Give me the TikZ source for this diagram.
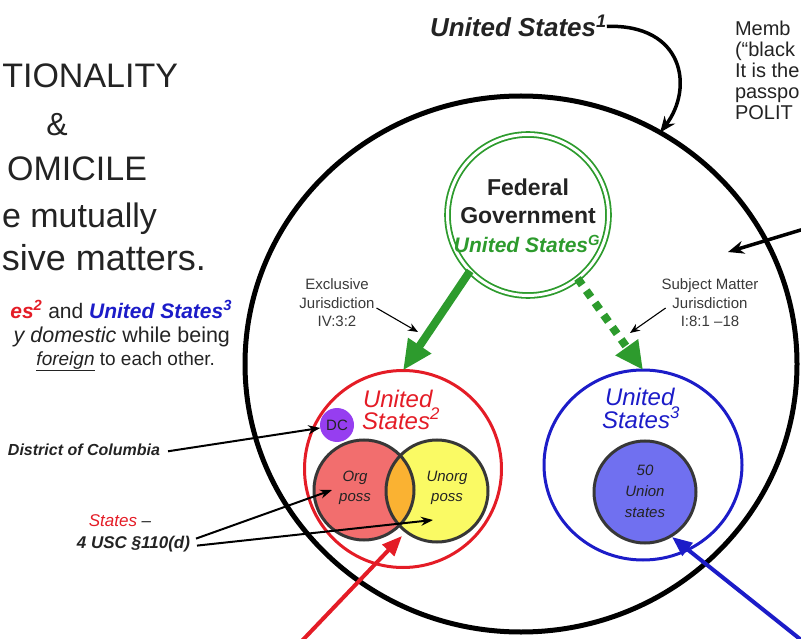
\documentclass[tikz,border=0pt]{standalone}
\usepackage{fontspec}
\setmainfont{Liberation Sans}
\usepackage{xcolor}
\usetikzlibrary{arrows.meta,shapes.geometric,positioning}

\definecolor{ink}{RGB}{35,35,35}
\definecolor{usred}{RGB}{228,28,38}
\definecolor{usblue}{RGB}{28,28,200}
\definecolor{fedgreen}{RGB}{45,155,45}
\definecolor{orgpink}{RGB}{242,110,110}
\definecolor{unorgyellow}{RGB}{250,250,100}
\definecolor{overlap}{RGB}{250,178,50}
\definecolor{dcpurple}{RGB}{150,62,240}
\definecolor{unionblue}{RGB}{112,112,240}
\definecolor{rimgray}{RGB}{55,55,55}

\newcommand{\setfs}[2]{\fontsize{#1}{#2}\selectfont}

\begin{document}
\begin{tikzpicture}[x=1pt,y=-1pt,>=Stealth,
    every node/.style={inner sep=0pt,outer sep=0pt,text=ink},
    ring/.style={draw,line width=3pt},
    rim/.style={draw=rimgray,line width=3pt},
    disc/.style={circle,inner sep=0pt},
    lbl/.style={align=center,font=\itshape\setfs{15}{20}},
    jur/.style={align=center,font=\setfs{15}{18.5},text=ink!90},
    thin/.style={->,line width=1.1pt,>={Stealth[length=10pt,width=8pt]}},
    pointer/.style={->,line width=2pt,>={Stealth[length=12pt,width=9pt]}},
    heavy/.style={->,line width=3.5pt,>={Stealth[length=16pt,width=13pt]}},
    bigarrow/.style={->,line width=4pt,>={Triangle[length=20pt,width=16pt]}}]
    \useasboundingbox (0,0) rectangle (801,639);

    % title, cut at the left edge
    \node[anchor=base east,font=\setfs{34}{34}] (tNat) at (178,88) {TIONALITY};
    \node[anchor=base,font=\setfs{32}{32}] (tAmp) at (57,136) {\&};
    \node[anchor=base east,font=\setfs{34}{34}] (tDom) at (147,181) {OMICILE};
    \node[anchor=base east,font=\setfs{34}{34}] (tMut) at (157,228) {e mutually};
    \node[anchor=base east,font=\setfs{36}{36}] (tExc) at (206,271) {sive matters.};

    \node[anchor=base east,font=\setfs{21}{21}] (noteA) at (232,318)
        {\textcolor{usred}{\bfseries\itshape es\textsuperscript{2}} and \textcolor{usblue}{\bfseries\itshape United States\textsuperscript{3}}};
    \node[anchor=base east,font=\setfs{21.5}{21.5}] (noteB) at (230,342) {\textit{y domestic} while being};
    \node[anchor=base east,font=\setfs{19}{19}] (noteC) at (215,365) {\underline{\textit{foreign}} to each other.};

    % right column, cut at the right edge
    \node[anchor=base west,font=\setfs{20}{20}] (memb) at (735,36) {Memb};
    \node[anchor=base west,font=\setfs{20}{20}] (black) at (735,57) {(“black};
    \node[anchor=base west,font=\setfs{20}{20}] (itis) at (735,78) {It is the};
    \node[anchor=base west,font=\setfs{20}{20}] (passp) at (735,99) {passpo};
    \node[anchor=base west,font=\setfs{20}{20}] (polit) at (735,120) {POLIT};

    % United States 1
    \node[ellipse,draw=black,line width=5pt,minimum width=552pt,minimum height=536pt] (usOne) at (521,364) {};
    \node[anchor=base west,font=\bfseries\itshape\setfs{26}{26}] (usOneLbl) at (430,37) {United States\textsuperscript{1}};
    \draw[heavy] (usOneLbl.east) .. controls (684,24) and (694,88) .. (usOne.59);
    \coordinate (rightFrom) at (814,226);
    \coordinate (rightTip) at (728,252);
    \draw[heavy] (rightFrom) -- (rightTip);

    % federal government
    \node[circle,draw=fedgreen,double=white,double distance=3pt,line width=1.8pt,minimum size=161pt] (fed) at (528,215) {};
    \node[anchor=base,font=\bfseries\setfs{23}{23}] (fedA) at (528,196) {Federal};
    \node[anchor=base,font=\bfseries\setfs{23}{23}] (fedB) at (528,224) {Government};
    \node[anchor=base,font=\bfseries\itshape\setfs{21}{21},text=fedgreen] (fedC) at (527,253) {United States\textsuperscript{G}};

    % United States 2
    \node[disc,ring,draw=usred,minimum size=197pt] (usTwo) at (403,469) {};
    \node[anchor=base west,font=\itshape\setfs{24}{24},text=usred] (usTwoA) at (363,407) {United};
    \node[anchor=base west,font=\itshape\setfs{24}{24},text=usred] (usTwoB) at (362,429) {States\textsuperscript{2}};
    \node[disc,fill=dcpurple,minimum size=34pt,font=\setfs{15}{15}] (dc) at (337,425) {DC};
    \node[disc,fill=orgpink,minimum size=100pt] (org) at (364,490) {};
    \node[disc,fill=unorgyellow,minimum size=102pt] (unorg) at (437,491) {};
    \begin{scope}
        \clip (org.center) circle (50pt);
        \fill[overlap] (unorg.center) circle (51pt);
    \end{scope}
    \draw[rim] (org.center) circle (50pt);
    \draw[rim] (unorg.center) circle (51pt);
    \node[lbl] (orgTxt) at (355,488) {Org\\poss};
    \node[lbl] (unorgTxt) at (447,488) {Unorg\\poss};

    % United States 3
    \node[ellipse,ring,draw=usblue,minimum width=198pt,minimum height=190pt] (usThree) at (643,465) {};
    \node[anchor=base west,font=\itshape\setfs{24}{24},text=usblue] (usThreeA) at (605,405) {United};
    \node[anchor=base west,font=\itshape\setfs{24}{24},text=usblue] (usThreeB) at (602,428) {States\textsuperscript{3}};
    \node[disc,fill=unionblue,rim,minimum size=102pt] (union) at (645,492) {};
    \node[lbl,font=\itshape\setfs{15}{21}] (unionTxt) at (645,491) {50\\Union\\states};

    % jurisdiction arrows
    \draw[fedgreen,line width=8pt,->,>={Triangle[length=30pt,width=26pt]}] (fed.224) -- (usTwo.north);
    \draw[fedgreen,line width=8pt,dash pattern=on 8pt off 7pt,->,>={Triangle[length=28pt,width=26pt]}] (fed.308) -- (usThree.north);
    \node[jur] (exclLbl) at (337,303) {Exclusive\\Jurisdiction\\IV:3:2};
    \node[jur] (subjLbl) at (710,303) {Subject Matter\\Jurisdiction\\I:8:1 –18};
    \coordinate (exclTip) at (418,332);
    \coordinate (subjTip) at (630,333);
    \draw[thin] ([xshift=2pt,yshift=-5pt]exclLbl.east) -- (exclTip);
    \draw[thin] ([xshift=4pt,yshift=-5pt]subjLbl.west) -- (subjTip);

    % labels on the left
    \node[anchor=base west,font=\bfseries\itshape\setfs{16}{16}] (dcLbl) at (8,455) {District of Columbia};
    \node[anchor=base,font=\itshape\setfs{17}{17}] (statesLbl) at (120,526) {\textcolor{usred}{States} –};
    \node[anchor=base east,font=\bfseries\itshape\setfs{17}{17}] (uscLbl) at (190,548) {4 USC §110(d)};
    \coordinate (orgTip) at (332,490);
    \coordinate (unorgTip) at (433,520);
    \draw[pointer] ([xshift=8pt,yshift=-2pt]dcLbl.east) -- (dc.190);
    \draw[pointer] ([xshift=6pt,yshift=5pt]uscLbl.east) -- (orgTip);
    \draw[pointer] ([xshift=7pt,yshift=-2pt]uscLbl.east) -- (unorgTip);

    % arrows from below
    \coordinate (redFrom) at (298,645);
    \coordinate (redTip) at (402,536);
    \coordinate (blueFrom) at (805,643);
    \coordinate (blueTip) at (672,537);
    \draw[bigarrow,usred] (redFrom) -- (redTip);
    \draw[bigarrow,usblue] (blueFrom) -- (blueTip);
\end{tikzpicture}
\end{document}
